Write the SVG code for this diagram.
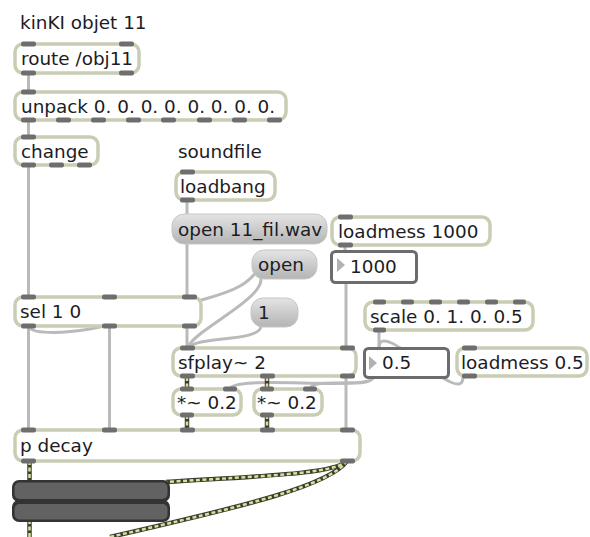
<svg xmlns="http://www.w3.org/2000/svg" width="590" height="537" viewBox="0 0 590 537">
<defs>
<linearGradient id="msgFill" x1="0" y1="0" x2="0" y2="1">
<stop offset="0" stop-color="#e4e4e4"/>
<stop offset="1" stop-color="#b4b4b4"/>
</linearGradient>
<style>
text { font-family: "DejaVu Sans", "Liberation Sans", sans-serif; font-size: 18.4px; fill: #1c1c24; }
.obj { fill: #ffffff; stroke: #c9cdb3; stroke-width: 3.5; }
.msg { fill: url(#msgFill); stroke: #c6c6c6; stroke-width: 1; }
.num { fill: #ffffff; stroke: #6c6c6c; stroke-width: 3; }
.tri { fill: #b2b2b2; }
.io { fill: #6e6e6e; }
.cord { fill: none; stroke: #bababa; stroke-width: 3; stroke-linecap: round; }
.sig { fill: none; stroke: #3c3c30; stroke-width: 4.5; }
.sigd { fill: none; stroke: #d4e29a; stroke-width: 2.5; stroke-dasharray: 4 2.5; }
.gainbg { fill: #333333; }
.gain { fill: #626262; }
</style>
<!-- signal cord geometry, stroked twice below (dark casing + light dashes) -->
<path id="s1" d="M187,377 V389"/>
<path id="s2" d="M267,377 V389"/>
<path id="s3" d="M187,415 V430"/>
<path id="s4" d="M267,415 V430"/>
<path id="s5" d="M29.5,461 V481"/>
<path id="s6" d="M29.5,520 V537"/>
<path id="s7" d="M347,461 C335,474 260,476 166,482"/>
<path id="s8" d="M347,461 C330,485 250,505 110,537"/>
</defs>

<!-- patch cords (drawn beneath the boxes) -->
<g id="connectors">
  <path class="cord" d="M28.5,74 V92"/>
  <path class="cord" d="M28.5,120 V137"/>
  <path class="cord" d="M28.5,165 V297"/>
  <path class="cord" d="M28.5,326 V430"/>
  <path class="cord" d="M109.5,326 V430"/>
  <path class="cord" d="M187,200 V214"/>
  <path class="cord" d="M187,244 V348"/>
  <path class="cord" d="M345,244 V251"/>
  <path class="cord" d="M346,282 V430"/>
  <path class="cord" d="M379,330 V348"/>
  <path class="cord" d="M28.5,326 C30,334 60,334 90,329 C140,320 180,306 205,299 C230,292 252,285 262,262"/>
  <path class="cord" d="M261,279 C262,300 195,330 188,347"/>
  <path class="cord" d="M261,326 C260,342 200,336 189,347"/>
  <path class="cord" d="M463,377 C463,410 379,315 379,348"/>
  <path class="cord" d="M373,377 C372,392 232,374 230,389"/>
  <path class="cord" d="M373,377 C372,390 312,376 310,389"/>

  <g class="sig">
    <use href="#s1"/><use href="#s2"/><use href="#s3"/><use href="#s4"/>
    <use href="#s5"/><use href="#s6"/><use href="#s7"/><use href="#s8"/>
  </g>
  <g class="sigd">
    <use href="#s1"/><use href="#s2"/><use href="#s3"/><use href="#s4"/>
    <use href="#s5"/><use href="#s6"/><use href="#s7"/><use href="#s8"/>
  </g>
</g>

<g id="title">
  <text x="20" y="29">kinKI objet 11</text>
</g>

<g id="route">
  <rect class="obj" x="15" y="44" width="124" height="29" rx="8"/>
  <rect class="io" x="21" y="41.5" width="15" height="5" rx="2"/>
  <rect class="io" x="119" y="41.5" width="15" height="5" rx="2"/>
  <rect class="io" x="21" y="70.5" width="15" height="5" rx="2"/>
  <rect class="io" x="119" y="70.5" width="15" height="5" rx="2"/>
  <text x="21" y="65">route /obj11</text>
</g>

<g id="unpack">
  <rect class="obj" x="15" y="92" width="271" height="28" rx="8"/>
  <rect class="io" x="21" y="89.5" width="15" height="5" rx="2"/>
  <rect class="io" x="21" y="117.5" width="15" height="5" rx="2"/>
  <rect class="io" x="56" y="117.5" width="15" height="5" rx="2"/>
  <rect class="io" x="91" y="117.5" width="15" height="5" rx="2"/>
  <rect class="io" x="126" y="117.5" width="15" height="5" rx="2"/>
  <rect class="io" x="161" y="117.5" width="15" height="5" rx="2"/>
  <rect class="io" x="197" y="117.5" width="15" height="5" rx="2"/>
  <rect class="io" x="232" y="117.5" width="15" height="5" rx="2"/>
  <rect class="io" x="267" y="117.5" width="15" height="5" rx="2"/>
  <text x="21" y="113">unpack 0. 0. 0. 0. 0. 0. 0. 0.</text>
</g>

<g id="change">
  <rect class="obj" x="15" y="137" width="83" height="28" rx="8"/>
  <rect class="io" x="21" y="134.5" width="15" height="5" rx="2"/>
  <rect class="io" x="21" y="162.5" width="15" height="5" rx="2"/>
  <rect class="io" x="49" y="162.5" width="15" height="5" rx="2"/>
  <rect class="io" x="77" y="162.5" width="15" height="5" rx="2"/>
  <text x="21" y="158">change</text>
</g>

<g id="soundfile-label">
  <text x="178" y="158">soundfile</text>
</g>

<g id="loadbang">
  <rect class="obj" x="176" y="172" width="99" height="28" rx="8"/>
  <rect class="io" x="180" y="169.5" width="15" height="5" rx="2"/>
  <rect class="io" x="180" y="197.5" width="15" height="5" rx="2"/>
  <text x="180" y="193">loadbang</text>
</g>

<g id="msg-open-file">
  <rect class="msg" x="172" y="214" width="155" height="30" rx="12"/>
  <text x="178" y="236">open 11_fil.wav</text>
</g>

<g id="loadmess-1000">
  <rect class="obj" x="332" y="217" width="158" height="28" rx="8"/>
  <rect class="io" x="338" y="214.5" width="15" height="5" rx="2"/>
  <rect class="io" x="338" y="242.5" width="15" height="5" rx="2"/>
  <text x="338" y="238">loadmess 1000</text>
</g>

<g id="msg-open">
  <rect class="msg" x="252" y="250" width="65" height="29" rx="12"/>
  <text x="258" y="271">open</text>
</g>

<g id="num-1000">
  <rect class="num" x="331.5" y="251.5" width="85" height="31" rx="4"/>
  <polygon class="tri" points="337,258 337,272 345,265"/>
  <text x="350" y="273">1000</text>
</g>

<g id="sel">
  <rect class="obj" x="15" y="297" width="186" height="29" rx="8"/>
  <rect class="io" x="21" y="294.5" width="15" height="5" rx="2"/>
  <rect class="io" x="102" y="294.5" width="15" height="5" rx="2"/>
  <rect class="io" x="182" y="294.5" width="15" height="5" rx="2"/>
  <rect class="io" x="21" y="323.5" width="15" height="5" rx="2"/>
  <rect class="io" x="102" y="323.5" width="15" height="5" rx="2"/>
  <rect class="io" x="182" y="323.5" width="15" height="5" rx="2"/>
  <text x="20" y="318">sel 1 0</text>
</g>

<g id="msg-one">
  <rect class="msg" x="251" y="298" width="47" height="29" rx="12"/>
  <text x="258" y="319">1</text>
</g>

<g id="scale">
  <rect class="obj" x="365" y="302" width="168" height="28" rx="8"/>
  <rect class="io" x="373" y="299.5" width="13" height="5" rx="2"/>
  <rect class="io" x="401" y="299.5" width="13" height="5" rx="2"/>
  <rect class="io" x="429" y="299.5" width="13" height="5" rx="2"/>
  <rect class="io" x="457" y="299.5" width="13" height="5" rx="2"/>
  <rect class="io" x="485" y="299.5" width="13" height="5" rx="2"/>
  <rect class="io" x="513" y="299.5" width="13" height="5" rx="2"/>
  <rect class="io" x="373" y="327.5" width="13" height="5" rx="2"/>
  <text x="370" y="323">scale 0. 1. 0. 0.5</text>
</g>

<g id="sfplay">
  <rect class="obj" x="173" y="348" width="183" height="28" rx="8"/>
  <rect class="io" x="180" y="345.5" width="15" height="5" rx="2"/>
  <rect class="io" x="340" y="345.5" width="15" height="5" rx="2"/>
  <rect class="io" x="180" y="373.5" width="15" height="5" rx="2"/>
  <rect class="io" x="260" y="373.5" width="15" height="5" rx="2"/>
  <rect class="io" x="340" y="373.5" width="15" height="5" rx="2"/>
  <text x="178" y="369">sfplay~ 2</text>
</g>

<g id="num-05">
  <rect class="num" x="364.5" y="348.5" width="84" height="29" rx="4"/>
  <polygon class="tri" points="369,356 369,370 377,363"/>
  <text x="382" y="369">0.5</text>
</g>

<g id="loadmess-05">
  <rect class="obj" x="457" y="348" width="130" height="28" rx="8"/>
  <rect class="io" x="462" y="345.5" width="15" height="5" rx="2"/>
  <rect class="io" x="462" y="373.5" width="15" height="5" rx="2"/>
  <text x="461" y="369">loadmess 0.5</text>
</g>

<g id="mul-left">
  <rect class="obj" x="173" y="389" width="68" height="26" rx="8"/>
  <rect class="io" x="180" y="386.5" width="14" height="5" rx="2"/>
  <rect class="io" x="223" y="386.5" width="14" height="5" rx="2"/>
  <rect class="io" x="180" y="412.5" width="14" height="5" rx="2"/>
  <text x="177" y="409">*~ 0.2</text>
</g>

<g id="mul-right">
  <rect class="obj" x="254" y="389" width="68" height="26" rx="8"/>
  <rect class="io" x="260" y="386.5" width="14" height="5" rx="2"/>
  <rect class="io" x="303" y="386.5" width="14" height="5" rx="2"/>
  <rect class="io" x="260" y="412.5" width="14" height="5" rx="2"/>
  <text x="257" y="409">*~ 0.2</text>
</g>

<g id="p-decay">
  <rect class="obj" x="15" y="430" width="345" height="31" rx="8"/>
  <rect class="io" x="21" y="427.5" width="15" height="5" rx="2"/>
  <rect class="io" x="102" y="427.5" width="15" height="5" rx="2"/>
  <rect class="io" x="180" y="427.5" width="15" height="5" rx="2"/>
  <rect class="io" x="260" y="427.5" width="15" height="5" rx="2"/>
  <rect class="io" x="340" y="427.5" width="15" height="5" rx="2"/>
  <rect class="io" x="21" y="458.5" width="15" height="5" rx="2"/>
  <rect class="io" x="340" y="458.5" width="15" height="5" rx="2"/>
  <text x="20" y="452">p decay</text>
</g>

<g id="gain-1">
  <rect class="gainbg" x="12" y="480" width="158" height="22" rx="7"/>
  <rect class="gain" x="14.5" y="482.5" width="153" height="16.5" rx="5"/>
</g>
<g id="gain-2">
  <rect class="gainbg" x="12" y="500" width="158" height="22" rx="7"/>
  <rect class="gain" x="14.5" y="504" width="153" height="15.5" rx="5"/>
</g>
</svg>
